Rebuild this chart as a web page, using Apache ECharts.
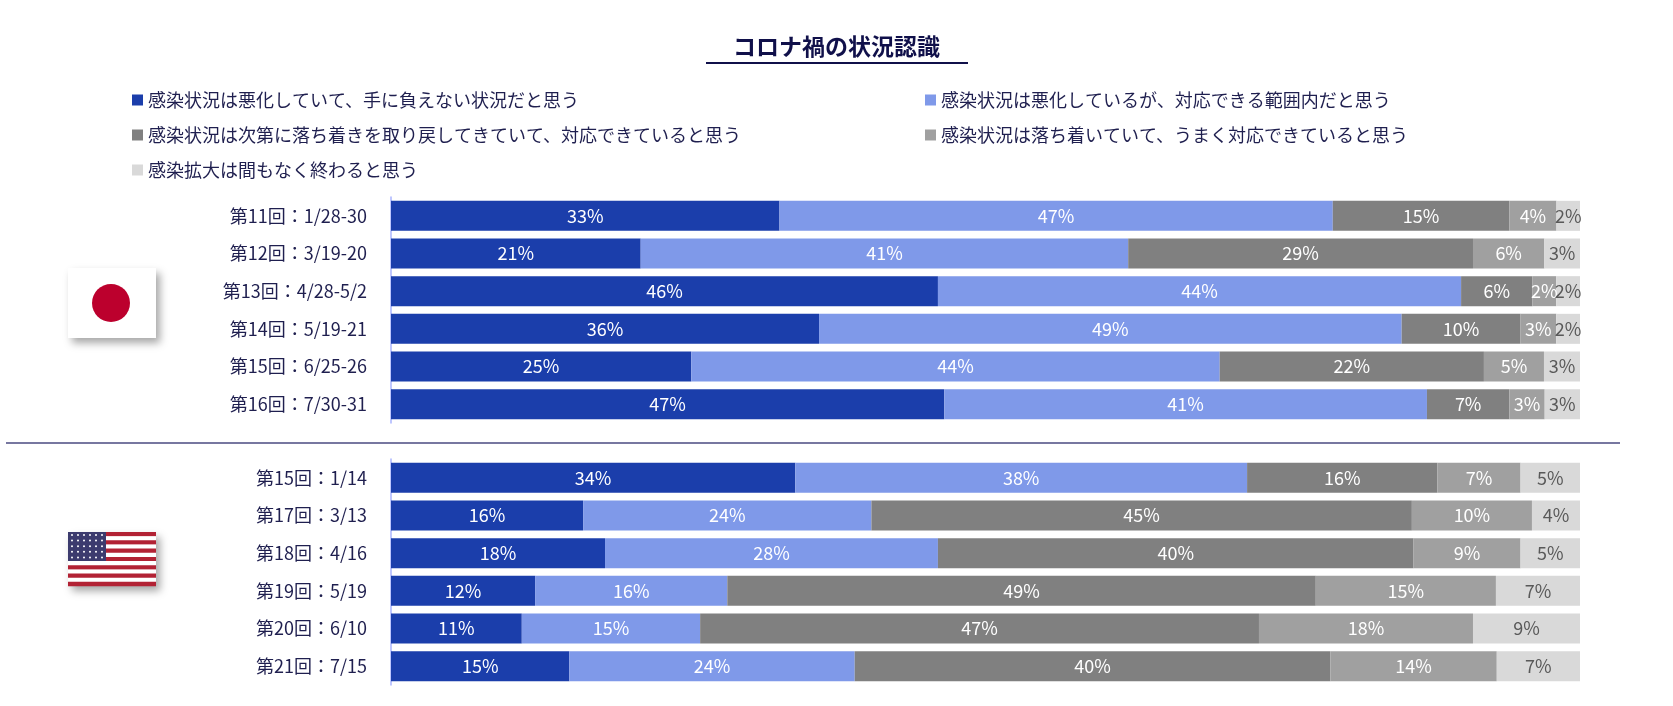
<!DOCTYPE html>
<html>
<head>
<meta charset="utf-8">
<script src="https://cdn.jsdelivr.net/npm/echarts@6/dist/echarts.min.js"></script>
<style>html,body{margin:0;padding:0;background:#fff}#main{width:1673px;height:706px}</style>
</head>
<body>
<div id="main"></div>
<script>
// categories
var jpRounds = ['第11回：1/28-30', '第12回：3/19-20', '第13回：4/28-5/2', '第14回：5/19-21', '第15回：6/25-26', '第16回：7/30-31'];
var usRounds = ['第15回：1/14', '第17回：3/13', '第18回：4/16', '第19回：5/19', '第20回：6/10', '第21回：7/15'];

var names = [
    '感染状況は悪化していて、手に負えない状況だと思う',
    '感染状況は悪化しているが、対応できる範囲内だと思う',
    '感染状況は次第に落ち着きを取り戻してきていて、対応できていると思う',
    '感染状況は落ち着いていて、うまく対応できていると思う',
    '感染拡大は間もなく終わると思う'
];
var colors = ['#1b3eab', '#7f99e9', '#808080', '#a0a0a0', '#d9d9d9'];

// values per answer (rows in round order)
var jpWorse = [33, 21, 46, 36, 25, 47];
var jpManage = [47, 41, 44, 49, 44, 41];
var jpCalming = [15, 29, 6, 10, 22, 7];
var jpCalm = [4, 6, 2, 3, 5, 3];
var jpEnd = [2, 3, 2, 2, 3, 3];

var usWorse = [34, 16, 18, 12, 11, 15];
var usManage = [38, 24, 28, 16, 15, 24];
var usCalming = [16, 45, 40, 49, 47, 40];
var usCalm = [7, 10, 9, 15, 18, 14];
var usEnd = [5, 4, 5, 7, 9, 7];

var jpData = [jpWorse, jpManage, jpCalming, jpCalm, jpEnd];
var usData = [usWorse, usManage, usCalming, usCalm, usEnd];

var myChart = echarts.init(document.getElementById('main'));
var font = '"Noto Sans CJK JP", "Noto Sans", sans-serif';

// each row is drawn as share of its own total so all bars end together
function buildSeries(data, idx) {
    var totals = data[0].map(function (v, r) {
        return data.reduce(function (s, arr) { return s + arr[r]; }, 0);
    });
    return data.map(function (arr, k) {
        return {
            name: names[k],
            type: 'bar',
            stack: 'g' + idx,
            xAxisIndex: idx,
            yAxisIndex: idx,
            barWidth: 30,
            itemStyle: {color: colors[k]},
            label: {
                show: true,
                position: 'inside',
                color: k === 4 ? '#595959' : '#fff',
                fontSize: 18,
                fontFamily: font,
                formatter: function (p) { return arr[p.dataIndex] + '%'; }
            },
            data: arr.map(function (v, r) { return v / totals[r] * 100; })
        };
    });
}

var legends = [[127, 86], [920, 86], [127, 121], [920, 121], [127, 156]].map(function (p, i) {
    return {
        left: p[0], top: p[1],
        data: [names[i]],
        icon: 'rect', itemWidth: 11, itemHeight: 11, itemGap: 6,
        selectedMode: false,
        textStyle: {fontSize: 18, color: '#1f1f4f', fontFamily: font}
    };
});

function yAx(cats, idx) {
    return {
        type: 'category', gridIndex: idx, data: cats, inverse: true,
        axisTick: {show: false},
        axisLine: {lineStyle: {color: '#aab4ff', width: 1.5}},
        axisLabel: {fontSize: 18, color: '#1f1f4f', fontFamily: font, margin: 24}
    };
}
function xAx(idx) {
    return {type: 'value', gridIndex: idx, min: 0, max: 100, show: false};
}

// US flag pieces
var flag = [];
for (var s = 0; s < 13; s++) {
    flag.push({type: 'rect', shape: {x: 68, y: 532 + s * 54 / 13, width: 88, height: 54 / 13 + 0.3},
        style: {fill: s % 2 ? '#fff' : '#b22234'}});
}
flag.push({type: 'rect', shape: {x: 68, y: 532, width: 38, height: 29}, style: {fill: '#3c3b6e'}});
for (var r = 0; r < 5; r++) {
    for (var c = 0; c < 6; c++) {
        flag.push({type: 'circle', shape: {cx: 72 + c * 6, cy: 535 + r * 5.6, r: 1}, style: {fill: '#fff'}});
    }
}

option = {
    backgroundColor: '#fff',
    title: {
        text: 'コロナ禍の状況認識', left: 'center', top: 30,
        textStyle: {fontSize: 23, fontWeight: 'bold', color: '#10104a', fontFamily: font}
    },
    legend: legends,
    grid: [
        {left: 391, right: 93, top: 197, height: 226},
        {left: 391, right: 93, top: 459, height: 226}
    ],
    xAxis: [xAx(0), xAx(1)],
    yAxis: [yAx(jpRounds, 0), yAx(usRounds, 1)],
    series: buildSeries(jpData, 0).concat(buildSeries(usData, 1)),
    graphic: [
        {type: 'line', shape: {x1: 706, y1: 63, x2: 968, y2: 63}, style: {stroke: '#10104a', lineWidth: 2}},
        {type: 'line', shape: {x1: 6, y1: 443, x2: 1620, y2: 443}, style: {stroke: '#4a4a80', lineWidth: 1.5}},
        {type: 'rect', shape: {x: 68, y: 268, width: 88, height: 70},
            style: {fill: '#fff', shadowBlur: 8, shadowOffsetX: 4, shadowOffsetY: 5, shadowColor: 'rgba(0,0,0,0.35)'}},
        {type: 'circle', shape: {cx: 111, cy: 303, r: 19}, style: {fill: '#bc002d'}},
        {type: 'rect', shape: {x: 68, y: 532, width: 88, height: 54},
            style: {fill: '#fff', shadowBlur: 8, shadowOffsetX: 4, shadowOffsetY: 5, shadowColor: 'rgba(0,0,0,0.35)'}},
        {type: 'group', children: flag}
    ]
};

myChart.setOption(option);
</script>
</body>
</html>
